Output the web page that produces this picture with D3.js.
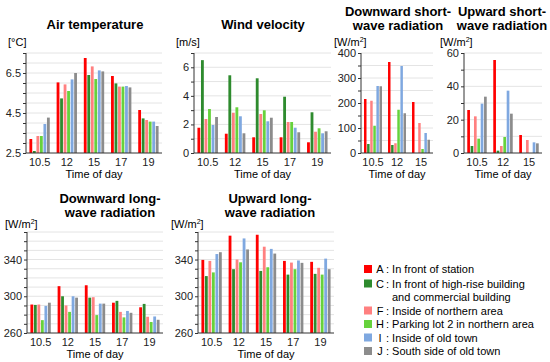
<!DOCTYPE html>
<html>
<head>
<meta charset="utf-8">
<script src="https://cdn.jsdelivr.net/npm/d3@7"></script>
<style>
body { margin: 0; background: #fff; }
svg { font-family: "Liberation Sans", Arial, sans-serif; }
.title { font-weight: bold; font-size: 13px; }
.axis text { font-size: 11px; fill: #222; }
.axis path, .axis line { stroke: #333; }
</style>
</head>
<body>
<div id="chart"></div>
<script>
var times5 = ['10.5', '12', '15', '17', '19'];
var times3 = ['10.5', '12', '15'];
var sites = ['A', 'C', 'F', 'H', 'I', 'J'];
var siteColors = ['#ff0000', '#2e8b2e', '#ff8080', '#66d23c', '#7fa8e0', '#8c8c8c'];
var siteNames = ['In front of station', 'In front of high-rise building', 'Inside of northern area',
   'Parking lot 2 in northern area', 'Inside of old town', 'South side of old town'];

// rows = time of day, columns = A, C, F, H, I, J
var airTemp = [
   [3.2, 2.6, 3.35, 3.35, 3.95, 4.27],
   [6.03, 5.23, 5.93, 5.6, 6.18, 6.5],
   [7.25, 6.4, 6.83, 6.2, 6.63, 6.58],
   [6.35, 5.98, 5.82, 5.82, 5.85, 5.78],
   [4.65, 4.23, 4.15, 4.07, 4.07, 3.85]
];
var windVel = [
   [1.77, 6.5, 2.38, 3.08, 1.96, 2.52],
   [1.35, 5.44, 2.82, 3.2, 2.57, 1.38],
   [1.1, 5.23, 2.73, 2.99, 2.22, 2.47],
   [1.1, 3.94, 2.17, 2.17, 1.77, 1.45],
   [0.75, 2.85, 1.49, 1.73, 1.38, 1.52]
];
var downShort = [
   [216, 36, 209, 109, 268, 267],
   [364, 32, 39, 173, 348, 159],
   [204, 0, 120, 16, 80, 53]
];
var upShort = [
   [25.8, 4.2, 22, 8.6, 29.6, 33.8],
   [55.8, 1.4, 4.2, 9.6, 37.4, 23.6],
   [10.8, 0, 7.8, 0, 6.4, 5.8]
];
var downLong = [
   [291, 290.6, 291, 274, 289.5, 293],
   [311, 300, 290, 283, 300, 298.5],
   [312, 298.5, 299, 279.5, 292, 292],
   [293, 295, 283, 277, 284, 282],
   [288, 291.7, 277.7, 272, 278, 274.4]
];
var upLong = [
   [339.6, 322, 338.5, 326, 346, 348],
   [366, 329.5, 340, 337, 363, 351],
   [367, 327.6, 354, 331.6, 351.6, 346.5],
   [338.5, 323.6, 336.7, 329.5, 339, 336.4],
   [337.5, 324.4, 331, 323.6, 341, 329.5]
];

var svg = d3.select('#chart').append('svg').attr('width', 550).attr('height', 362);

function panel(o) {
   var x = d3.scaleBand().domain(o.times).range([o.x0, o.x1]).paddingInner(0.2).paddingOuter(0.1);
   var xs = d3.scaleBand().domain(sites).range([0, x.bandwidth()]).padding(0.2);
   var y = d3.scaleLinear().domain(o.domain).range([o.y1, o.y0]);
   var minor = d3.range(o.domain[0], o.domain[1] + o.step / 2, o.step);
   var g = svg.append('g');

   g.selectAll('line.grid').data(minor.slice(1)).enter().append('line')
      .attr('x1', o.x0).attr('x2', o.x1)
      .attr('y1', function (d) { return y(d); }).attr('y2', function (d) { return y(d); })
      .attr('stroke', '#e4e4e4').attr('stroke-width', 1);

   o.data.forEach(function (row, i) {
      g.selectAll(null).data(row).enter().append('rect')
         .attr('x', function (d, j) { return x(o.times[i]) + xs(sites[j]); })
         .attr('y', function (d) { return y(d); })
         .attr('width', xs.bandwidth())
         .attr('height', function (d) { return y(o.domain[0]) - y(d); })
         .attr('fill', function (d, j) { return siteColors[j]; });
   });

   var yAxis = d3.axisLeft(y).tickValues(minor).tickSize(3).tickPadding(2)
      .tickFormat(function (d) { return o.labels.indexOf(d) >= 0 ? d : ''; });
   g.append('g').attr('class', 'axis').attr('transform', 'translate(' + o.x0 + ',0)').call(yAxis)
      .call(function (s) { s.select('.domain').attr('d', 'M0,' + o.y0 + 'V' + o.y1); });

   g.append('g').attr('class', 'axis').attr('transform', 'translate(0,' + o.y1 + ')')
      .call(d3.axisBottom(x).tickSize(0).tickPadding(5))
      .call(function (s) { s.select('.domain').attr('d', 'M' + o.x0 + ',0H' + o.x1); });

   g.append('text').text('Time of day').attr('x', (o.x0 + o.x1) / 2).attr('y', o.y1 + 25)
      .attr('text-anchor', 'middle').style('font-size', '11px');

   g.selectAll('text.title').data(o.title).enter().append('text').attr('class', 'title')
      .attr('x', o.tx).attr('y', function (d, i) { return o.ty + i * 13.5; })
      .attr('text-anchor', 'middle').text(function (d) { return d; });

   var u = g.append('text').attr('x', o.ux).attr('y', o.uy).style('font-size', '11px');
   u.append('tspan').text(o.unit);
   if (o.sup) {
      u.append('tspan').text('2').attr('dy', -4).style('font-size', '7px');
      u.append('tspan').text(']').attr('dy', 4);
   }
}

panel({ times: times5, data: airTemp, x0: 26, x1: 162, y0: 53, y1: 153, domain: [2.5, 7.5], step: 0.5,
   labels: [2.5, 4.5, 6.5], title: ['Air temperature'], tx: 95, ty: 29, unit: '[\u00b0C]', ux: 8, uy: 46 });
panel({ times: times5, data: windVel, x0: 194, x1: 331, y0: 53, y1: 153, domain: [0, 7], step: 1,
   labels: [0, 2, 4, 6], title: ['Wind velocity'], tx: 263, ty: 29, unit: '[m/s]', ux: 176, uy: 46 });
panel({ times: times3, data: downShort, x0: 361, x1: 433, y0: 53, y1: 153, domain: [0, 400], step: 50,
   labels: [0, 100, 200, 300, 400], title: ['Downward short-', 'wave radiation'], tx: 398, ty: 16,
   unit: '[W/m', sup: true, ux: 334, uy: 46 });
panel({ times: times3, data: upShort, x0: 464, x1: 542, y0: 53, y1: 153, domain: [0, 60], step: 10,
   labels: [0, 20, 40, 60], title: ['Upward short-', 'wave radiation'], tx: 502, ty: 16,
   unit: '[W/m', sup: true, ux: 440, uy: 46 });
panel({ times: times5, data: downLong, x0: 27, x1: 163, y0: 232, y1: 333, domain: [260, 370], step: 10,
   labels: [260, 300, 340], title: ['Downward long-', 'wave radiation'], tx: 110, ty: 203,
   unit: '[W/m', sup: true, ux: 5, uy: 228 });
panel({ times: times5, data: upLong, x0: 198, x1: 334, y0: 232, y1: 333, domain: [260, 370], step: 10,
   labels: [260, 300, 340], title: ['Upward long-', 'wave radiation'], tx: 270, ty: 203,
   unit: '[W/m', sup: true, ux: 171, uy: 228 });

// legend
var leg = svg.append('g').attr('transform', 'translate(364,269)');
var rowY = [0, 14.5, 41.5, 55, 68.5, 82];
sites.forEach(function (s, i) {
   leg.append('rect').attr('x', 0).attr('y', rowY[i] - 4).attr('width', 8).attr('height', 8).attr('fill', siteColors[i]);
   leg.append('text').attr('x', 16).attr('y', rowY[i] + 4).attr('text-anchor', 'middle')
      .style('font-size', '11px').text(s);
   leg.append('text').attr('x', 22).attr('y', rowY[i] + 4).style('font-size', '11px')
      .text(': ' + siteNames[i]);
});
leg.append('text').attr('x', 28).attr('y', 28 + 4).style('font-size', '11px').text('and commercial building');
</script>
</body>
</html>
